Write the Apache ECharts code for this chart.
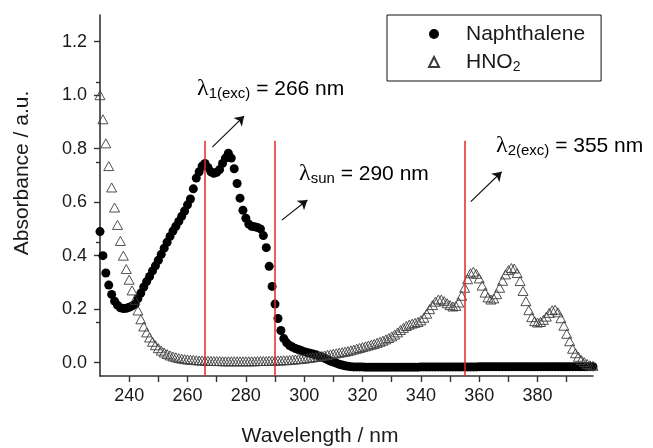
<!DOCTYPE html>
<html>
<head>
<meta charset="utf-8">
<script src="https://cdn.jsdelivr.net/npm/echarts@6/dist/echarts.min.js"></script>
<style>
  html, body { margin: 0; padding: 0; background: #fff; }
  #chart { width: 653px; height: 448px; }
</style>
</head>
<body>
<div id="chart"></div>
<script>
// Sampling grid of the absorption spectra (nm), 1 nm steps from 230 to 399
const wavelength = Array.from({ length: 170 }, (_, i) => 230 + i);

// Naphthalene absorbance, 230–399 nm
const naphthalene = [
  0.49, 0.40, 0.335, 0.29, 0.255, 0.23, 0.215, 0.205, 0.202, 0.203,
  0.207, 0.212, 0.218, 0.24, 0.26, 0.283, 0.303, 0.322, 0.343, 0.362,
  0.383, 0.405, 0.428, 0.45, 0.472, 0.492, 0.51, 0.528, 0.547, 0.567,
  0.59, 0.612, 0.65, 0.69, 0.714, 0.735, 0.745, 0.73, 0.714, 0.708,
  0.712, 0.722, 0.745, 0.765, 0.783, 0.765, 0.725, 0.67, 0.615, 0.57,
  0.54, 0.518, 0.51, 0.508, 0.505, 0.50, 0.475, 0.43, 0.36, 0.285,
  0.219, 0.165, 0.12, 0.09, 0.074, 0.064, 0.058, 0.053, 0.049, 0.045,
  0.041, 0.038, 0.035, 0.032, 0.029, 0.025, 0.021, 0.016, 0.011, 0.006,
  0.002, -0.002, -0.006, -0.009, -0.012, -0.014, -0.015, -0.016, -0.016, -0.016,
  -0.016, -0.017, -0.017, -0.017, -0.017, -0.017, -0.017, -0.017, -0.017, -0.017,
  -0.017, -0.017, -0.017, -0.017, -0.017, -0.017, -0.017, -0.017, -0.017, -0.017,
  -0.016, -0.016, -0.016, -0.016, -0.016, -0.016, -0.016, -0.016, -0.016, -0.016,
  -0.016, -0.016, -0.016, -0.016, -0.016, -0.016, -0.016, -0.016, -0.016, -0.016,
  -0.015, -0.015, -0.015, -0.015, -0.015, -0.015, -0.015, -0.015, -0.015, -0.015,
  -0.015, -0.015, -0.015, -0.015, -0.015, -0.015, -0.015, -0.015, -0.015, -0.015,
  -0.015, -0.015, -0.015, -0.015, -0.015, -0.015, -0.015, -0.015, -0.015, -0.015,
  -0.015, -0.015, -0.015, -0.015, -0.015, -0.015, -0.015, -0.015, -0.015, -0.015
];

// HNO2 absorbance, 230–399 nm
const hno2 = [
  1.00, 0.91, 0.82, 0.735, 0.655, 0.58, 0.515, 0.455, 0.40, 0.35,
  0.31, 0.27, 0.235, 0.195, 0.162, 0.135, 0.113, 0.094, 0.078, 0.065,
  0.054, 0.045, 0.038, 0.032, 0.027, 0.023, 0.020, 0.017, 0.015, 0.013,
  0.012, 0.011, 0.010, 0.009, 0.008, 0.008, 0.007, 0.007, 0.006, 0.006,
  0.006, 0.006, 0.005, 0.005, 0.005, 0.005, 0.005, 0.005, 0.005, 0.005,
  0.005, 0.005, 0.005, 0.005, 0.006, 0.006, 0.006, 0.006, 0.007, 0.007,
  0.007, 0.008, 0.008, 0.009, 0.009, 0.010, 0.011, 0.012, 0.013, 0.014,
  0.015, 0.017, 0.018, 0.020, 0.021, 0.023, 0.025, 0.027, 0.029, 0.031,
  0.033, 0.035, 0.037, 0.039, 0.041, 0.043, 0.046, 0.049, 0.052, 0.055,
  0.058, 0.061, 0.064, 0.067, 0.070, 0.074, 0.078, 0.082, 0.087, 0.092,
  0.098, 0.105, 0.113, 0.122, 0.130, 0.137, 0.142, 0.146, 0.149, 0.152,
  0.158, 0.168, 0.183, 0.200, 0.215, 0.228, 0.236, 0.236, 0.230, 0.222,
  0.215, 0.210, 0.212, 0.225, 0.250, 0.280, 0.312, 0.334, 0.340, 0.332,
  0.315, 0.288, 0.262, 0.244, 0.236, 0.240, 0.256, 0.280, 0.306, 0.330,
  0.346, 0.354, 0.352, 0.335, 0.305, 0.268, 0.230, 0.196, 0.170, 0.155,
  0.150, 0.152, 0.160, 0.172, 0.186, 0.196, 0.198, 0.188, 0.166, 0.138,
  0.108, 0.080, 0.052, 0.035, 0.022, 0.010, 0.002, -0.005, -0.010, -0.012
];

// Axis ticks and labels
const xTicks = [240, 250, 260, 270, 280, 290, 300, 310, 320, 330, 340, 350, 360, 370, 380, 390];
const xLabels = [240, 260, 280, 300, 320, 340, 360, 380];
const yLabels = [0.0, 0.2, 0.4, 0.6, 0.8, 1.0, 1.2];

// Excitation / solar wavelengths (nm) and the height the markers reach
const markWavelengths = [266, 290, 355];
const markTop = 0.83;

// Arrow annotations: [x0, y0, x1, y1] in data units
const arrows = [
  [268.5, 0.806, 279.4, 0.922],
  [292.3, 0.533, 301.1, 0.608],
  [357.1, 0.602, 367.7, 0.714]
];

const FONT = '"Liberation Sans", Arial, Helvetica, sans-serif';
const SERIF = '"Liberation Serif", "DejaVu Serif", serif';
const TEXT = '#1a1a1a';
const RED = '#e3262b';

const zip = (xs, ys) => xs.map((x, i) => [x, ys[i]]);

const chart = echarts.init(document.getElementById('chart'), null, { renderer: 'canvas' });

const lambdaRich = {
  l: { fontFamily: SERIF, fontSize: 24, lineHeight: 24, color: TEXT },
  s: { fontFamily: FONT, fontSize: 15, lineHeight: 14, verticalAlign: 'bottom', color: TEXT },
  m: { fontFamily: FONT, fontSize: 21, lineHeight: 24, color: TEXT }
};

function lambdaLabel(x, y, sub, value) {
  return {
    type: 'text',
    x: x, y: y,
    silent: true,
    style: {
      text: '{l|λ}{s|' + sub + '}{m| = ' + value + ' nm}',
      rich: lambdaRich,
      align: 'left',
      verticalAlign: 'middle'
    }
  };
}

chart.setOption({
  animation: false,
  backgroundColor: '#fff',
  grid: {
    left: 100, top: 15, width: 493, height: 361,
    containLabel: false,
    outerBoundsMode: 'none'
  },
  xAxis: {
    type: 'value',
    min: 230, max: 399,
    axisLine: { show: true, onZero: false, lineStyle: { color: '#333', width: 1.6 } },
    axisTick: { show: true, inside: false, length: 6, customValues: xTicks, lineStyle: { color: '#333', width: 1.4 } },
    axisLabel: {
      customValues: xLabels,
      margin: 11,
      fontSize: 18, fontFamily: FONT, color: TEXT,
      formatter: v => String(v)
    },
    splitLine: { show: false },
    minorTick: { show: false }
  },
  yAxis: {
    type: 'value',
    min: -0.05, max: 1.3,
    axisLine: { show: true, onZero: false, lineStyle: { color: '#333', width: 1.6 } },
    axisTick: { show: true, inside: false, length: 6, customValues: yLabels, lineStyle: { color: '#333', width: 1.4 } },
    minorTick: { show: true, splitNumber: 2, length: 4, lineStyle: { color: '#333', width: 1.4 } },
    axisLabel: {
      customValues: yLabels,
      margin: 13,
      fontSize: 18, fontFamily: FONT, color: TEXT,
      formatter: v => Number(v).toFixed(1)
    },
    splitLine: { show: false },
    minorSplitLine: { show: false }
  },
  legend: {
    orient: 'vertical',
    left: 387, top: 15,
    data: ['Naphthalene', 'HNO2'],
    borderColor: '#111', borderWidth: 1, borderRadius: 0,
    padding: [7, 16, 7, 41],
    itemWidth: 10, itemHeight: 10, itemGap: 4,
    selectedMode: false,
    formatter: name => name === 'HNO2' ? 'HNO{sub|2}' : name,
    textStyle: {
      fontSize: 21, fontFamily: FONT, color: TEXT, lineHeight: 24,
      padding: [0, 0, 0, 22],
      rich: {
        sub: { fontSize: 14, fontFamily: FONT, color: TEXT, lineHeight: 12, verticalAlign: 'bottom' }
      }
    }
  },
  series: [
    {
      name: 'Naphthalene',
      type: 'scatter',
      symbol: 'circle',
      symbolSize: 9,
      itemStyle: { color: '#000', opacity: 1 },
      emphasis: { disabled: true },
      data: zip(wavelength, naphthalene),
      markLine: {
        silent: true,
        symbol: ['none', 'none'],
        label: { show: false },
        lineStyle: { color: RED, width: 1.5, type: 'solid', opacity: 1 },
        emphasis: { disabled: true },
        data: markWavelengths.map(w => [{ coord: [w, -0.05] }, { coord: [w, markTop] }])
      }
    },
    {
      name: 'HNO2',
      type: 'scatter',
      symbol: 'triangle',
      symbolSize: [10, 9],
      itemStyle: { color: 'rgba(255,255,255,0)', borderColor: '#3c3c3c', borderWidth: 0.9, opacity: 1 },
      emphasis: { disabled: true },
      data: zip(wavelength, hno2),
      markLine: {
        silent: true,
        symbol: ['none', 'arrow'],
        symbolSize: 9,
        label: { show: false },
        lineStyle: { color: '#111', width: 1.2, type: 'solid', opacity: 1 },
        emphasis: { disabled: true },
        data: arrows.map(a => [{ coord: [a[0], a[1]] }, { coord: [a[2], a[3]] }])
      }
    }
  ],
  graphic: [
    {
      type: 'text', x: 22, y: 173, rotation: Math.PI / 2, silent: true,
      style: { text: 'Absorbance / a.u.', fontSize: 21, fontFamily: FONT, fill: TEXT, align: 'center', verticalAlign: 'middle' }
    },
    {
      type: 'text', x: 320, y: 436, silent: true,
      style: { text: 'Wavelength / nm', fontSize: 21, fontFamily: FONT, fill: TEXT, align: 'center', verticalAlign: 'middle' }
    },
    lambdaLabel(197, 89, '1(exc)', 266),
    lambdaLabel(299, 174, 'sun', 290),
    lambdaLabel(496, 146, '2(exc)', 355)
  ]
});
</script>
</body>
</html>
